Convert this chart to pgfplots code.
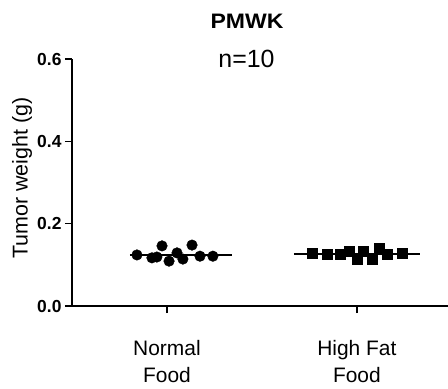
\documentclass[border=0pt]{standalone}
\usepackage{fontspec}
\setmainfont{Liberation Sans}
\usepackage{pgfplots}
\pgfplotsset{compat=1.18}
\begin{document}
\begin{tikzpicture}
\useasboundingbox (-72bp,-83bp) rectangle (376bp,306bp);
\begin{axis}[
  at={(0,0)}, anchor=south west,
  scale only axis, width=376bp, height=247bp,
  xmin=0.5, xmax=2.48, ymin=0, ymax=0.6,
  axis x line=bottom, axis y line=left,
  axis line style={-, line width=1.6bp, black},
  xtick={1,2}, xticklabels={Normal\\Food, High Fat\\Food},
  ytick={0,0.2,0.4,0.6}, yticklabels={0.0,0.2,0.4,0.6},
  tick style={line width=1.6bp, black},
  tick align=outside, major tick length=7bp,
  xticklabel style={align=center, font=\fontsize{21}{27}\selectfont, yshift=-24bp},
  yticklabel style={font=\fontsize{17.5}{17.5}\selectfont\bfseries},
  ylabel={Tumor weight (g)},
  ylabel style={at={(axis description cs:-0.133,0.518)}, anchor=center, font=\fontsize{21.5}{21.5}\selectfont},
  clip=false,
]
\addplot[black, line width=1.8bp, no marks] coordinates {(0.805,0.124) (1.342,0.124)};
\addplot[black, line width=1.8bp, no marks] coordinates {(1.668,0.127) (2.332,0.127)};
\addplot[only marks, mark=*, mark size=5.3bp, black] coordinates {
(0.842,0.124) (0.921,0.117) (0.947,0.119) (0.974,0.146) (1.011,0.109)
(1.053,0.129) (1.084,0.114) (1.132,0.148) (1.174,0.121) (1.242,0.121)};
\addplot[only marks, mark=square*, mark size=5bp, black] coordinates {
(1.763,0.129) (1.842,0.126) (1.911,0.126) (1.958,0.134) (2.000,0.114)
(2.032,0.134) (2.079,0.114) (2.116,0.141) (2.158,0.126) (2.237,0.129)};
\end{axis}
\node[anchor=base, xscale=1.1, font=\fontsize{21}{21}\selectfont\bfseries] at (175bp,277bp) {PMWK};
\node[anchor=base, font=\fontsize{25}{25}\selectfont] at (174.5bp,238bp) {n=10};
\end{tikzpicture}
\end{document}
